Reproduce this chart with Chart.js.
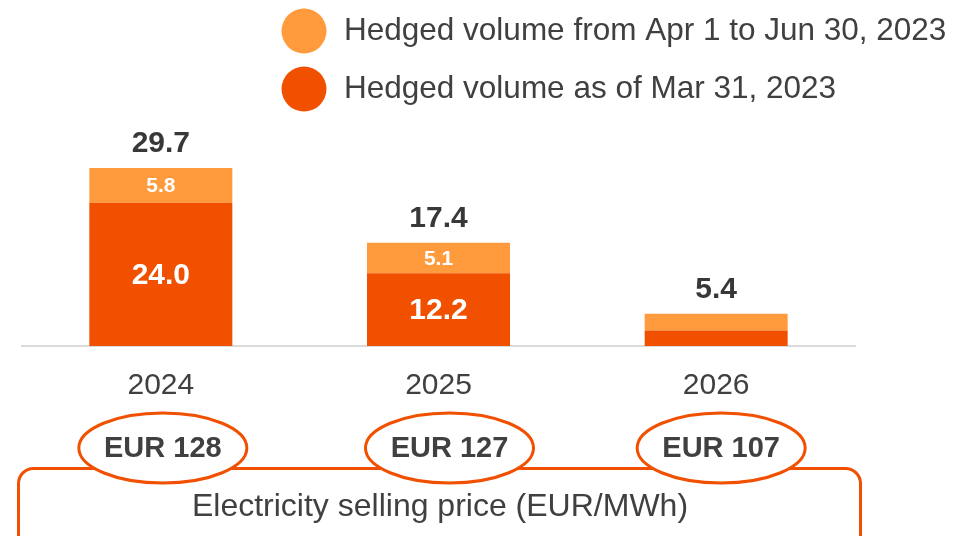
<!DOCTYPE html>
<html>
<head>
<meta charset="utf-8">
<script src="https://cdn.jsdelivr.net/npm/chart.js@4"></script>
<style>
  html, body { margin: 0; padding: 0; background: #fff; }
  canvas { display: block; }
</style>
</head>
<body>
<canvas id="grafico" width="969" height="536"></canvas>
<script>
// data
const years = ["2024", "2025", "2026"];
const hedgedMar31 = [24.0, 12.2, 2.6];
const hedgedAprJun = [5.8, 5.1, 2.8];
const totals = [29.7, 17.4, 5.4];
const prices = ["EUR 128", "EUR 127", "EUR 107"];
const seriesNames = ["Hedged volume as of Mar 31, 2023", "Hedged volume from Apr 1 to Jun 30, 2023"];

const DARK = "#F05000";
const LIGHT = "#FF9B3D";
const TEXT = "#404040";
const FONT = "'Liberation Sans', Arial, sans-serif";

// small nudges of the price ellipses, as in the slide
const priceShift = [2, 11, 5];

const overlay = {
    id: "overlay",
    afterDatasetsDraw(chart) {
        const c = chart.ctx;
        c.save();
        c.textAlign = "center";
        c.textBaseline = "middle";

        // values inside the segments
        chart.data.datasets.forEach((ds, i) => {
            chart.getDatasetMeta(i).data.forEach((bar, j) => {
                const h = Math.abs(bar.base - bar.y);
                if (h < 25) return;
                c.fillStyle = "#fff";
                c.font = (i === 0 ? "bold 30px " : "bold 21px ") + FONT;
                c.fillText(ds.data[j].toFixed(1), bar.x, (bar.y + bar.base) / 2 + 1);
            });
        });

        // totals above the bars
        const top = chart.getDatasetMeta(1).data;
        c.fillStyle = "#383838";
        c.font = "bold 30px " + FONT;
        top.forEach((bar, j) => {
            c.fillText(totals[j].toFixed(1), bar.x, bar.y - 24);
        });
        c.restore();
    },
    afterDraw(chart) {
        const c = chart.ctx;
        const x = chart.scales.x;
        c.save();

        // legend (top right)
        const rows = [[1, 31], [0, 89]];
        rows.forEach(([i, y]) => {
            const ds = chart.data.datasets[i];
            c.fillStyle = ds.backgroundColor;
            c.beginPath();
            c.arc(304, y, 22.5, 0, Math.PI * 2);
            c.fill();
            c.fillStyle = TEXT;
            c.font = "31.5px " + FONT;
            c.textAlign = "left";
            c.textBaseline = "middle";
            c.fillText(ds.label, 344, y);
        });

        // price box
        c.strokeStyle = DARK;
        c.lineWidth = 3;
        c.beginPath();
        c.roundRect(18.5, 468.5, 842, 120, 15);
        c.stroke();
        c.fillStyle = TEXT;
        c.font = "32px " + FONT;
        c.textAlign = "center";
        c.fillText("Electricity selling price (EUR/MWh)", 440, 507);

        // price ellipses
        prices.forEach((p, j) => {
            const cx = x.getPixelForValue(j) + priceShift[j];
            const cy = 448;
            c.beginPath();
            c.ellipse(cx, cy, 84, 35, 0, 0, Math.PI * 2);
            c.fillStyle = "#fff";
            c.fill();
            c.strokeStyle = DARK;
            c.lineWidth = 3;
            c.stroke();
            c.fillStyle = TEXT;
            c.font = "bold 29px " + FONT;
            c.fillText(p, cx, cy + 1);
        });
        c.restore();
    }
};

Chart.defaults.font.family = FONT;

new Chart(document.getElementById("grafico"), {
    type: "bar",
    data: {
        labels: years,
        datasets: [{
            label: seriesNames[0],
            data: hedgedMar31,
            backgroundColor: DARK,
            borderWidth: 0
        }, {
            label: seriesNames[1],
            data: hedgedAprJun,
            backgroundColor: LIGHT,
            borderWidth: 0
        }]
    },
    options: {
        responsive: false,
        animation: false,
        categoryPercentage: 1,
        barPercentage: 0.515,
        layout: {
            padding: { top: 137, left: 22, right: 114, bottom: 0 }
        },
        plugins: {
            legend: { display: false },
            tooltip: { enabled: false }
        },
        scales: {
            x: {
                stacked: true,
                grid: { display: false, drawTicks: false },
                border: { display: true, color: "#DADADA", width: 2 },
                ticks: {
                    color: TEXT,
                    font: { size: 30 },
                    padding: 22
                },
                afterFit(scale) {
                    scale.height = 190;
                }
            },
            y: {
                stacked: true,
                display: false,
                min: 0,
                max: 35
            }
        }
    },
    plugins: [overlay]
});
</script>
</body>
</html>
